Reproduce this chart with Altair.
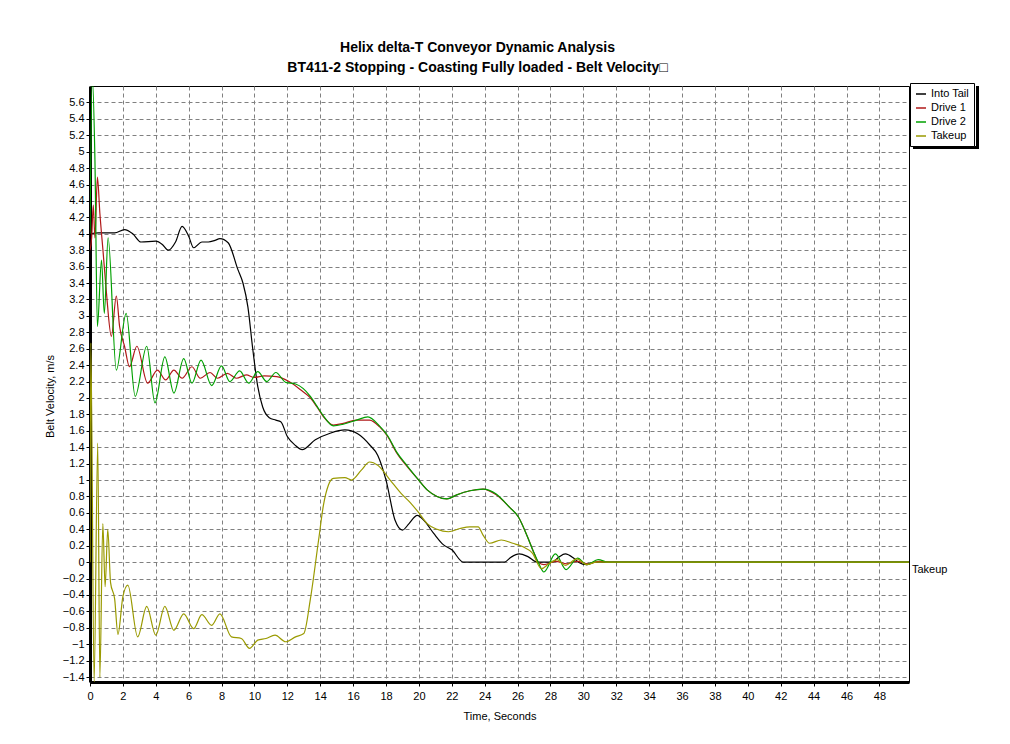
import altair as alt
import pandas as pd

# ---------------- data ----------------
into_t = [0, 0.5, 1.5, 2.1, 2.6, 3.1, 4.0, 4.4, 4.76, 5.2, 5.6, 6.0, 6.3, 6.8, 7.2, 7.6, 7.9, 8.4,
          9.0, 9.3, 9.6, 9.9, 10.2, 10.5, 10.9, 11.3, 11.6, 12.0, 12.5, 12.9, 13.7, 14.6, 15.5,
          16.3, 17.0, 17.5, 18.0, 18.55, 19.0, 19.4, 19.9, 20.3, 20.9, 21.5, 22.0, 22.7, 25.2,
          25.6, 26.1, 26.6, 27.2, 28.1, 28.5, 28.9, 29.4, 29.7, 30.2, 30.7, 31.2, 49.8]
into_v = [4.0, 4.01, 4.01, 4.05, 4.0, 3.9, 3.91, 3.87, 3.8, 3.9, 4.09, 3.97, 3.83, 3.9, 3.9, 3.92,
          3.94, 3.89, 3.56, 3.40, 3.11, 2.59, 2.14, 1.89, 1.76, 1.73, 1.71, 1.53, 1.42, 1.37, 1.49,
          1.57, 1.61, 1.56, 1.43, 1.30, 1.0, 0.51, 0.39, 0.47, 0.57, 0.51, 0.35, 0.21, 0.15, 0.0,
          0.0, 0.06, 0.10, 0.07, 0.0, 0.0, 0.06, 0.10, 0.05, 0.0, -0.03, 0.0, 0.0, 0.0]

d1_t = [0, 0.1, 0.2, 0.3, 0.45, 0.6, 0.8, 1.0, 1.3, 1.6, 1.8, 2.1, 2.4, 2.85, 3.5, 4.1, 4.6,
        5.1, 5.6, 6.2, 6.7, 7.3, 7.75, 8.35, 8.9, 9.5, 10.0, 10.6, 11.35, 12.1, 12.8, 13.4, 13.8,
        14.2, 14.8, 15.4, 16.2, 17.0, 17.6, 18.1, 18.65, 19.3, 19.9, 20.5, 21.1, 21.7, 22.3,
        23.1, 23.9, 24.7, 25.5, 26.05, 26.6, 27.0, 27.25, 27.6, 28.3, 29.0, 29.6, 30.3, 31.0,
        31.8, 49.8]
d1_v = [3.8, 3.95, 4.35, 3.95, 4.69, 4.25, 3.77, 3.28, 2.75, 3.24, 2.87, 2.63, 2.38, 2.63, 2.18,
        2.34, 2.22, 2.34, 2.24, 2.38, 2.24, 2.31, 2.24, 2.30, 2.24, 2.28, 2.25, 2.27, 2.26, 2.20,
        2.10, 2.0, 1.89, 1.77, 1.67, 1.69, 1.73, 1.73, 1.65, 1.53, 1.33, 1.16, 1.02, 0.88, 0.80,
        0.77, 0.82, 0.87, 0.89, 0.82, 0.67, 0.55, 0.31, 0.11, 0.0, -0.03, 0.01, -0.02, 0.01,
        -0.02, 0.01, 0.0, 0.0]

d2_t = [0, 0.14, 0.3, 0.45, 0.7, 0.87, 1.1, 1.6, 2.2, 2.75, 3.45, 3.95, 4.55, 5.1, 5.7, 6.2,
        6.75, 7.4, 8.0, 8.5, 9.1, 9.65, 10.2, 10.75, 11.3, 11.9, 12.5, 13.4, 13.8, 14.2, 14.8,
        15.4, 16.2, 16.9, 17.6, 18.1, 18.65, 19.3, 19.9, 20.5, 21.1, 21.7, 22.3, 23.1, 23.9,
        24.7, 25.5, 26.05, 26.6, 27.0, 27.25, 27.6, 28.3, 28.95, 29.65, 30.2, 30.9, 31.5, 49.8]
d2_v = [4.0, 5.9, 4.9, 2.87, 3.68, 3.03, 3.95, 2.34, 3.03, 2.02, 2.63, 1.94, 2.50, 2.06, 2.48,
        2.18, 2.46, 2.15, 2.39, 2.20, 2.33, 2.18, 2.32, 2.20, 2.31, 2.19, 2.17, 2.02, 1.90, 1.78,
        1.66, 1.68, 1.73, 1.77, 1.66, 1.54, 1.34, 1.17, 1.02, 0.88, 0.80, 0.77, 0.82, 0.87, 0.89,
        0.83, 0.67, 0.55, 0.31, 0.11, 0.0, -0.12, 0.10, -0.09, 0.05, -0.03, 0.03, 0.0, 0.0]

tk_t = [0, 0.05, 0.25, 0.47, 0.6, 0.78, 0.92, 1.08, 1.25, 1.5, 1.7, 2.0, 2.3, 2.9, 3.45, 4.0,
        4.55, 5.1, 5.7, 6.3, 6.8, 7.4, 7.9, 8.6, 9.2, 9.7, 10.2, 10.7, 11.25, 11.9, 12.5, 13.0,
        13.4, 13.9, 14.2, 14.5, 14.8, 15.5, 15.9, 16.5, 17.0, 17.5, 18.25, 18.9, 19.5, 20.0,
        20.5, 21.1, 21.8, 22.5, 23.1, 23.6, 23.9, 24.3, 25.0, 25.7, 26.3, 26.9, 27.45, 27.9,
        28.4, 28.9, 29.6, 30.2, 30.8, 49.8]
tk_v = [0.0, 2.67, -1.46, 1.45, -1.40, 0.47, -0.30, 0.40, -0.25, -0.45, -0.88, -0.42, -0.28,
        -0.91, -0.54, -0.89, -0.54, -0.83, -0.63, -0.81, -0.64, -0.77, -0.63, -0.91, -0.93,
        -1.05, -0.95, -0.93, -0.89, -0.97, -0.91, -0.87, -0.45, 0.27, 0.70, 0.94, 1.02, 1.03,
        1.0, 1.12, 1.22, 1.18, 1.0, 0.84, 0.72, 0.60, 0.47, 0.40, 0.37, 0.41, 0.43, 0.43, 0.33,
        0.23, 0.27, 0.23, 0.19, 0.11, -0.08, -0.02, 0.03, -0.04, 0.04, -0.03, 0.0, 0.0]

series_names = ["Into Tail", "Drive 1", "Drive 2", "Takeup"]
series_colors = ["#000000", "#b01818", "#00a000", "#9a9a00"]

x_ticks = [0, 2, 4, 6, 8, 10, 12, 14, 16, 18, 20, 22, 24, 26, 28, 30, 32, 34, 36, 38, 40, 42,
           44, 46, 48]
y_ticks = [-1.4, -1.2, -1.0, -0.8, -0.6, -0.4, -0.2, 0.0, 0.2, 0.4, 0.6, 0.8, 1.0, 1.2, 1.4,
           1.6, 1.8, 2.0, 2.2, 2.4, 2.6, 2.8, 3.0, 3.2, 3.4, 3.6, 3.8, 4.0, 4.2, 4.4, 4.6, 4.8,
           5.0, 5.2, 5.4, 5.6]

title_lines = ["Helix delta-T Conveyor Dynamic Analysis",
               "BT411-2 Stopping - Coasting Fully loaded - Belt Velocity\u25a1"]

# ---------------- table ----------------
rows = []
for name, ts, vs in zip(series_names, [into_t, d1_t, d2_t, tk_t], [into_v, d1_v, d2_v, tk_v]):
    for i, (t, v) in enumerate(zip(ts, vs)):
        rows.append({"series": name, "t": t, "v": v, "i": i})
df = pd.DataFrame(rows)

end_label = pd.DataFrame([{"t": tk_t[-1], "v": tk_v[-1], "label": "Takeup"}])

FONT = "Liberation Sans"
W, H = 819, 596

x_scale = alt.Scale(domain=[0, 49.8], nice=False, zero=False)
y_scale = alt.Scale(domain=[-1.46, 5.8], nice=False, zero=False)

x_enc = alt.X("t:Q", scale=x_scale,
              axis=alt.Axis(values=x_ticks, title="Time, Seconds", format="d",
                            labelPadding=4, titlePadding=9, labelOverlap=False,
                            labelFlush=False))
y_enc = alt.Y("v:Q", scale=y_scale,
              axis=alt.Axis(values=y_ticks, title="Belt Velocity, m/s", format=".1~f",
                            titleX=-40, titleY=310, titleBaseline="middle",
                            labelOverlap=False, labelFlush=False))

color_enc = alt.Color(
    "series:N",
    scale=alt.Scale(domain=series_names, range=series_colors),
    legend=alt.Legend(title=None, orient="none", legendX=820, legendY=-3,
                      strokeColor="black", fillColor="white", padding=5,
                      symbolType="stroke", symbolSize=100, symbolStrokeWidth=1.5,
                      labelFontSize=11, labelFont=FONT, labelColor="black",
                      rowPadding=3, labelOffset=4, cornerRadius=0),
)

layers = []
for name in series_names:
    layers.append(
        alt.Chart(df).transform_filter(alt.datum.series == name)
        .mark_line(strokeWidth=1.2, clip=True, interpolate="monotone")
        .encode(x=x_enc, y=y_enc, color=color_enc, order="i:Q")
    )

label_layer = alt.Chart(end_label).mark_text(
    align="left", baseline="top", dx=3, dy=2, fontSize=11, font=FONT, color="black"
).encode(x=x_enc, y=y_enc, text="label:N")

# legend drop shadow (right and bottom strips)
shadow_df = pd.DataFrame([{"k": 1}])
shadow_r = alt.Chart(shadow_df).mark_rect(color="black").encode(
    x=alt.value(886), x2=alt.value(889), y=alt.value(0), y2=alt.value(63))
shadow_b = alt.Chart(shadow_df).mark_rect(color="black").encode(
    x=alt.value(823), x2=alt.value(889), y=alt.value(60), y2=alt.value(63))

chart = alt.layer(*layers, label_layer, shadow_r, shadow_b).properties(
    width=W, height=H,
    autosize=alt.AutoSizeParams(type="none"),
    padding={"left": 82, "top": 78, "right": 90, "bottom": 55},
    title=alt.TitleParams(text=title_lines, fontSize=14, font=FONT, fontWeight="bold",
                          anchor="middle", frame="group", dx=-22, offset=8,
                          lineHeight=20, color="black"),
    background="white",
).configure_view(
    stroke="black", strokeWidth=1
).configure_axis(
    labelFont=FONT, labelFontSize=11, labelColor="black",
    titleFont=FONT, titleFontSize=11, titleFontWeight="normal", titleColor="black",
    domainColor="black", domainWidth=3, tickColor="black", tickSize=4,
    grid=True, gridColor="#808080", gridDash=[4, 3], gridWidth=1, gridOpacity=1,
)

chart.save("out.html", embed_options={"renderer": "svg", "actions": False})
